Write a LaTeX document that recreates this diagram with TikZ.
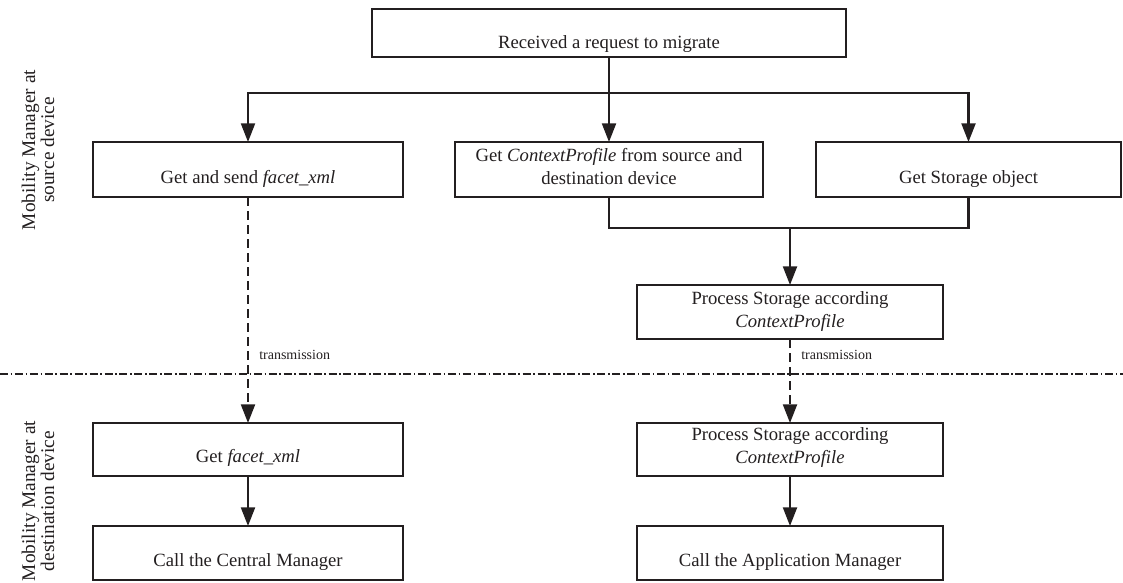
\documentclass[tikz,border=0pt]{standalone}
\usepackage{fontspec}
\setmainfont{Liberation Serif}
\usetikzlibrary{arrows.meta,shadows}
\definecolor{ink}{HTML}{231F20}
\begin{document}
\begin{tikzpicture}[x=0.75pt,y=-0.75pt,
  box/.style={draw=ink, line width=1.5pt, fill=white, rectangle, inner sep=0pt, outer sep=0pt,
    drop shadow={shadow xshift=0.7pt, shadow yshift=-0.7pt, fill=ink, opacity=1}},
  txt/.style={font=\fontsize{14}{17.25}\selectfont, text=ink, align=center, inner sep=0pt},
  side/.style={font=\fontsize{14.5}{13}\selectfont, text=ink, align=center, inner sep=0pt, rotate=90},
  small/.style={font=\fontsize{10.5}{12}\selectfont, text=ink, inner sep=0pt},
  conn/.style={draw=ink, line width=1.6pt},
  arr/.style={conn, -{Triangle[width=10.5pt,length=14pt]}},
  dasharr/.style={arr, dash pattern=on 7pt off 3.5pt},
  divider/.style={draw=ink, line width=1.6pt, dash pattern=on 6pt off 2pt on 1.2pt off 2pt}]
\useasboundingbox (0,0) rectangle (1123,582);

% boxes (source device)
\node[box, minimum width=355.5pt, minimum height=36pt]   (top) at (609,33) {};
\node[box, minimum width=232.5pt, minimum height=41.25pt] (r1l) at (248,169.5) {};
\node[box, minimum width=231pt,   minimum height=41.25pt] (r1m) at (609,169.5) {};
\node[box, minimum width=228.75pt,minimum height=41.25pt] (r1r) at (968.5,169.5) {};
\node[box, minimum width=229.5pt, minimum height=40.5pt]  (proc) at (790,312) {};
% boxes (destination device)
\node[box, minimum width=232.5pt, minimum height=39.75pt] (r3l) at (248,449.5) {};
\node[box, minimum width=229.5pt, minimum height=39.75pt] (r3r) at (790,449.5) {};
\node[box, minimum width=232.5pt, minimum height=40.5pt]  (r4l) at (248,553) {};
\node[box, minimum width=229.5pt, minimum height=40.5pt]  (r4r) at (790,553) {};

% box texts
\node[txt, anchor=base] (t-top) at (609,48) {Received a request to migrate};
\node[txt, anchor=base] (t-r1l) at (248,183) {Get and send \textit{facet\_xml}};
\node[txt] (t-r1m) at (609,167) {Get \textit{ContextProfile} from source and\\destination device};
\node[txt, anchor=base] (t-r1r) at (968.5,183) {Get Storage object};
\node[txt] (t-proc) at (790,312) {Process Storage according\\\textit{ContextProfile}};
\node[txt, anchor=base] (t-r3l) at (248,462) {Get \textit{facet\_xml}};
\node[txt] (t-r3r) at (790,448) {Process Storage according\\\textit{ContextProfile}};
\node[txt, anchor=base] (t-r4l) at (248,566) {Call the Central Manager};
\node[txt, anchor=base] (t-r4r) at (790,566) {Call the Application Manager};

% side labels
\node[side] (sideA) at (38,150) {Mobility Manager at\\source device};
\node[side] (sideB) at (38,501) {Mobility Manager at\\destination device};

% divider between the two devices
\coordinate (divL) at (0,374);
\coordinate (divR) at (1123,374);
\draw[divider] (divL) -- (divR);

% connectors
\coordinate (split) at (609,93);
\coordinate (join) at (790,228);
\draw[conn] (top.south) -- (split);
\draw[arr] (split) -| (r1l.north);
\draw[arr] (split) -- (r1m.north);
\draw[arr] (split) -| (r1r.north);
\draw[conn] (r1m.south) |- (join) -| (r1r.south);
\draw[arr] (join) -- (proc.north);
\draw[dasharr] (r1l.south) -- (r3l.north);
\draw[dasharr] (proc.south) -- (r3r.north);
\draw[arr] (r3l.south) -- (r4l.north);
\draw[arr] (r3r.south) -- (r4r.north);

% transmission labels
\node[small, anchor=west] (tx1) at (259,355) {transmission};
\node[small, anchor=west] (tx2) at (801,355) {transmission};
\end{tikzpicture}
\end{document}
